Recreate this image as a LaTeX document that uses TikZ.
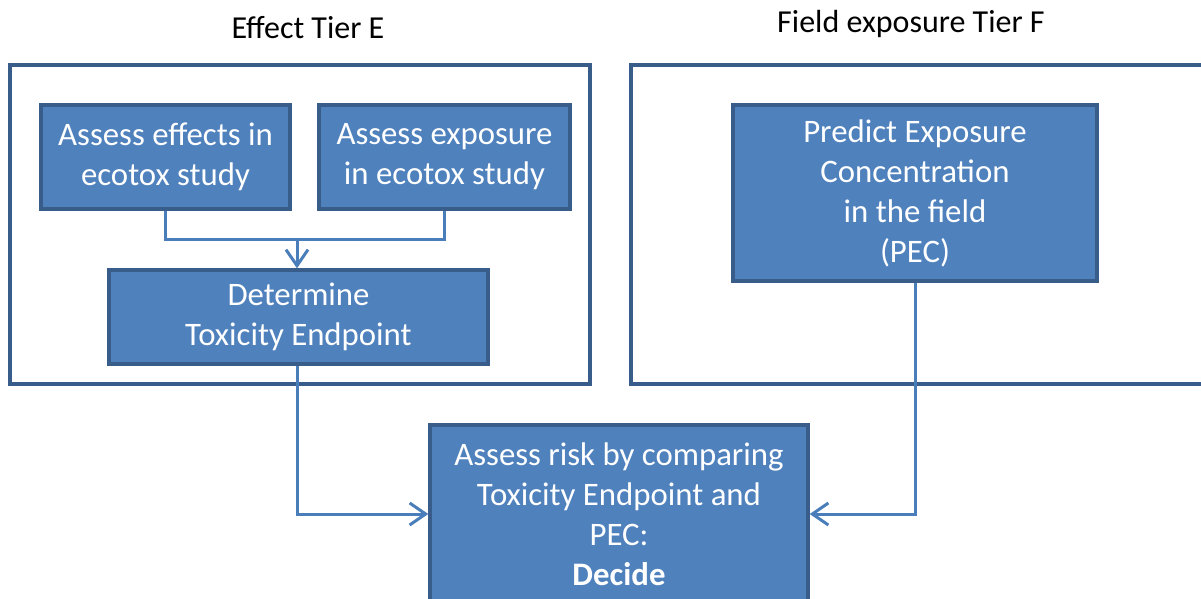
\documentclass[tikz,border=0pt]{standalone}
\usepackage{fontspec}
\setmainfont{Carlito}
\usepackage{tikz}
\usetikzlibrary{arrows.meta}
\definecolor{boxfill}{HTML}{4F81BD}
\definecolor{boxline}{HTML}{385D8A}
\definecolor{linkcol}{HTML}{4A7EBB}

\begin{document}
\begin{tikzpicture}[x=0.5pt,y=-0.5pt,
    stepbox/.style={draw=boxline,line width=1.7pt,fill=boxfill,text=white,align=center,
      inner sep=0pt,font=\fontsize{16.4}{20}\selectfont},
    tier/.style={draw=boxline,line width=1.6pt},
    link/.style={draw=linkcol,line width=1.5pt},
    arr/.style={link,-{Straight Barb[length=8pt,width=11pt,line width=1.5pt]}},
    title/.style={font=\fontsize{16}{20}\selectfont}]
    \useasboundingbox (0,0) rectangle (1201,599);
    \clip (0,0) rectangle (1201,599);
    % two tiers
    \draw[tier] (10,65) rectangle (590,384);
    \draw[tier] (631,65) rectangle (1220,384);
    \node[title] (tE) at (308,28) {Effect Tier E};
    \node[title] (tF) at (911,24) {Field exposure Tier F};
    % boxes
    \node[stepbox,minimum width=124.5pt,minimum height=52pt] (effects) at (165.5,157)
      {Assess effects in\\ ecotox study};
    \node[stepbox,minimum width=125.5pt,minimum height=52pt] (exposure) at (444.5,157)
      {Assess exposure\\ in ecotox study};
    \node[stepbox,minimum width=189.5pt,minimum height=47pt] (endpoint) at (298.5,317)
      {Determine\\ Toxicity Endpoint};
    \node[stepbox,minimum width=182pt,minimum height=88pt] (pec) at (915,193)
      {Predict Exposure\\ Concentration\\ in the field\\ (PEC)};
    \node[stepbox,minimum width=189pt,minimum height=89pt] (risk) at (619,514)
      {Assess risk by comparing\\ Toxicity Endpoint and\\ PEC:\\ \textbf{Decide}};
    % connectors
    \coordinate (join) at (297,240);
    \draw[link] (effects.south) |- (join) -| (exposure.south);
    \draw[arr] (join) -- (join |- endpoint.north);
    \draw[arr] (endpoint.south -| join) |- (risk.west);
    \draw[arr] (pec.south) |- (risk.east);
\end{tikzpicture}
\end{document}
